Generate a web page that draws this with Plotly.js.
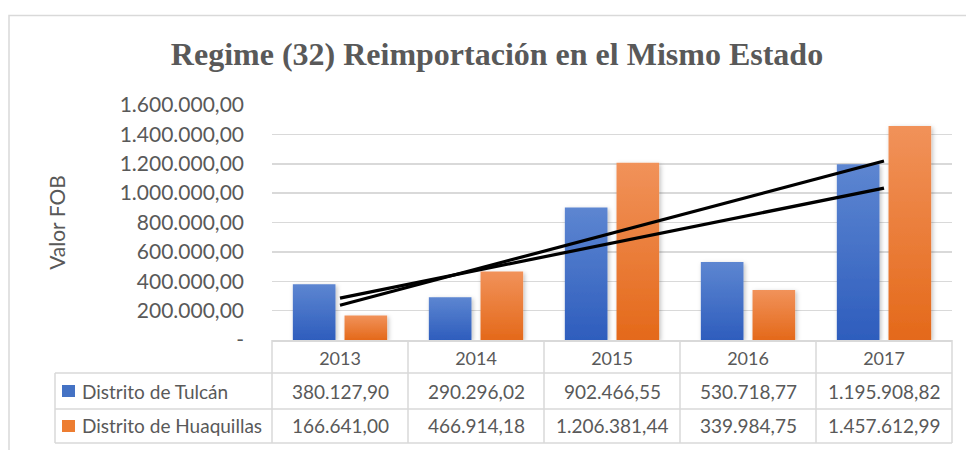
<!DOCTYPE html>
<html>
<head>
<meta charset="utf-8">
<script src="https://cdn.plot.ly/plotly-3.0.1.min.js"></script>
<style>
  html, body { margin: 0; padding: 0; background: #ffffff; }
  #chart { width: 966px; height: 450px; }
</style>
</head>
<body>
<div id="chart"></div>
<script>
// ---------- data ----------
const categories = ['2013', '2014', '2015', '2016', '2017'];
const seriesNames = ['Distrito de Tulcán', 'Distrito de Huaquillas'];
const tulcan = [380127.90, 290296.02, 902466.55, 530718.77, 1195908.82];
const huaquillas = [166641.00, 466914.18, 1206381.44, 339984.75, 1457612.99];
const yTickValues = [0, 200000, 400000, 600000, 800000, 1000000, 1200000, 1400000, 1600000];
const chartTitle = 'Regime (32) Reimportación en el Mismo Estado';
const yTitle = 'Valor FOB';

// ---------- styling ----------
const W = 966, H = 450;
const M = { l: 272, r: 14, t: 105, b: 110 };
const plotW = W - M.l - M.r, plotH = H - M.t - M.b;
const TEXT = '#595959';
const GRID = '#D9D9D9';
const BLUE = '#4472C4', ORANGE = '#ED7D31';
const seriesColors = [BLUE, ORANGE];
const gradStops = [['#5D86D1', '#2E5DBD'], ['#F1925A', '#E4691A']];

// helpers
function fmt(v) {
  if (v === 0) return '-';
  const s = Math.abs(v).toFixed(2).split('.');
  const intPart = s[0].replace(/\B(?=(\d{3})+(?!\d))/g, '.');
  return (v < 0 ? '-' : '') + intPart + ',' + s[1];
}
function trend(vals) {
  const n = vals.length;
  const xs = vals.map((_, i) => i + 1);
  const mx = xs.reduce((a, b) => a + b, 0) / n;
  const my = vals.reduce((a, b) => a + b, 0) / n;
  let sxy = 0, sxx = 0;
  for (let i = 0; i < n; i++) { sxy += (xs[i] - mx) * (vals[i] - my); sxx += (xs[i] - mx) ** 2; }
  const b = sxy / sxx, a = my - b * mx;
  return xs.map(x => a + b * x);
}
const px = X => (X - M.l) / plotW;          // pixel x -> paper x
const py = Y => (H - M.b - Y) / plotH;      // pixel y -> paper y
const catCenter = i => (i + 0.5) / categories.length;   // paper x of a category centre (range fixed)

const seriesValues = [tulcan, huaquillas];

const traces = [];
seriesValues.forEach((vals, k) => {
  traces.push({
    type: 'bar', x: categories, y: vals, name: seriesNames[k],
    marker: { color: seriesColors[k], line: { width: 0 } },
    hoverinfo: 'skip'
  });
});
seriesValues.forEach((vals, k) => {
  traces.push({
    type: 'scatter', mode: 'lines', x: categories, y: trend(vals),
    line: { color: '#000000', width: 3.2 }, hoverinfo: 'skip', showlegend: false
  });
});

// table geometry (pixels)
const tableRows = [373, 409, 443];
const tableLeft = 55;
const rowCenters = [391, 426];

const shapes = [];
// outer chart border
shapes.push({ type: 'rect', xref: 'paper', yref: 'paper', x0: px(9), x1: px(980), y0: py(15.5), y1: py(470),
  line: { color: GRID, width: 1.5 }, fillcolor: 'rgba(0,0,0,0)', layer: 'below' });
// horizontal table lines
tableRows.forEach(Y => {
  shapes.push({ type: 'line', xref: 'paper', yref: 'paper', x0: px(tableLeft), x1: 1, y0: py(Y), y1: py(Y),
    line: { color: GRID, width: 1.5 } });
});
// left border of legend column
shapes.push({ type: 'line', xref: 'paper', yref: 'paper', x0: px(tableLeft), x1: px(tableLeft), y0: py(tableRows[0]), y1: py(tableRows[2]),
  line: { color: GRID, width: 1.5 } });
// vertical column dividers at category boundaries (x range fixed to [-0.5, n-0.5])
for (let i = 0; i <= categories.length; i++) {
  const xp = i / categories.length;
  shapes.push({ type: 'line', xref: 'paper', yref: 'paper', x0: xp, x1: xp, y0: 0, y1: py(tableRows[2]),
    line: { color: GRID, width: 1.5 } });
}
// legend keys
rowCenters.forEach((Y, k) => {
  shapes.push({ type: 'rect', xref: 'paper', yref: 'paper', x0: px(62), x1: px(75), y0: py(Y - 6), y1: py(Y + 6),
    line: { width: 0 }, fillcolor: seriesColors[k] });
});

const annotations = [];
rowCenters.forEach((Y, k) => {
  annotations.push({ xref: 'paper', yref: 'paper', x: px(80), y: py(Y), xanchor: 'left', yanchor: 'middle',
    text: seriesNames[k], showarrow: false, font: { family: 'Lato', size: 19, color: TEXT } });
  seriesValues[k].forEach((v, i) => {
    annotations.push({ xref: 'paper', yref: 'paper', x: catCenter(i), y: py(Y), xanchor: 'center', yanchor: 'middle',
      text: fmt(v), showarrow: false, font: { family: 'Lato', size: 19, color: TEXT } });
  });
});

const layout = {
  width: W, height: H,
  margin: M,
  paper_bgcolor: '#ffffff', plot_bgcolor: '#ffffff',
  showlegend: false,
  barmode: 'group', bargap: 0.24, bargroupgap: 0.175,
  title: {
    text: chartTitle, xref: 'container', yref: 'container', x: 497 / W, y: 1 - 54 / H,
    xanchor: 'center', yanchor: 'middle',
    font: { family: 'Liberation Serif', size: 32, weight: 'bold', color: TEXT }
  },
  xaxis: {
    type: 'category', categoryorder: 'array', categoryarray: categories,
    range: [-0.5, categories.length - 0.5], autorange: false,
    showgrid: false, zeroline: false,
    showline: true, linecolor: GRID, linewidth: 1.5,
    ticks: '', ticklabelstandoff: 2, tickfont: { family: 'Lato', size: 18, color: TEXT },
    fixedrange: true
  },
  yaxis: {
    range: [0, 1600000], autorange: false, tickmode: 'array', tickvals: yTickValues, ticktext: yTickValues.map(fmt),
    showgrid: true, gridcolor: GRID, gridwidth: 1.5, zeroline: false, showline: false, ticks: '',
    ticklabelstandoff: 27,
    tickfont: { family: 'Lato', size: 21, color: TEXT },
    title: { text: yTitle, font: { family: 'Lato', size: 21, color: TEXT }, standoff: 48 },
    fixedrange: true
  },
  shapes: shapes,
  annotations: annotations
};

Plotly.newPlot('chart', traces, layout, { staticPlot: true, displayModeBar: false }).then(gd => {
  // Excel-like vertical gradient + soft shadow on bars (style only)
  const svg = gd.querySelector('svg.main-svg');
  const NS = 'http://www.w3.org/2000/svg';
  let defs = svg.querySelector('defs');
  if (!defs) { defs = document.createElementNS(NS, 'defs'); svg.insertBefore(defs, svg.firstChild); }
  gradStops.forEach((st, k) => {
    const g = document.createElementNS(NS, 'linearGradient');
    g.setAttribute('id', 'barGrad' + k);
    g.setAttribute('x1', '0'); g.setAttribute('y1', '0'); g.setAttribute('x2', '0'); g.setAttribute('y2', '1');
    [[0, st[0]], [1, st[1]]].forEach(([o, c]) => {
      const s = document.createElementNS(NS, 'stop');
      s.setAttribute('offset', o); s.setAttribute('stop-color', c);
      g.appendChild(s);
    });
    defs.appendChild(g);
  });
  const f = document.createElementNS(NS, 'filter');
  f.setAttribute('id', 'barShadow'); f.setAttribute('x', '-20%'); f.setAttribute('y', '-20%');
  f.setAttribute('width', '150%'); f.setAttribute('height', '140%');
  const ds = document.createElementNS(NS, 'feDropShadow');
  ds.setAttribute('dx', '1.5'); ds.setAttribute('dy', '1.5'); ds.setAttribute('stdDeviation', '2');
  ds.setAttribute('flood-color', '#000'); ds.setAttribute('flood-opacity', '0.25');
  f.appendChild(ds); defs.appendChild(f);
  gd.querySelectorAll('.barlayer .trace').forEach((tr, k) => {
    tr.querySelectorAll('path').forEach(p => {
      p.style.fill = 'url(#barGrad' + k + ')';
      p.setAttribute('filter', 'url(#barShadow)');
    });
  });
});
</script>
</body>
</html>
